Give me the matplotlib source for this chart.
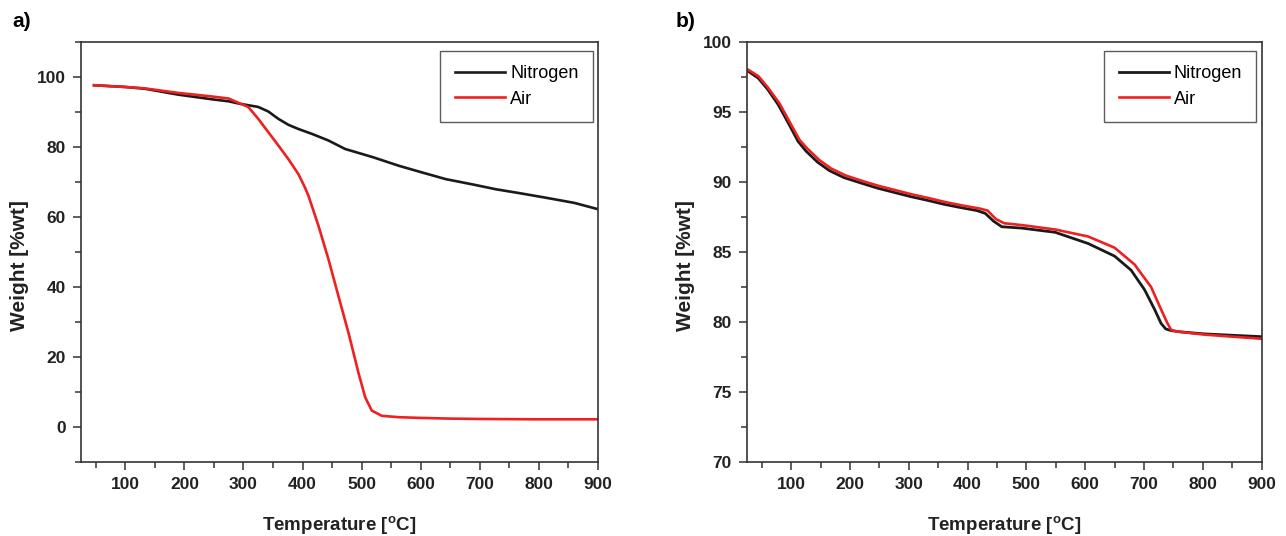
import numpy as np
import matplotlib
matplotlib.use("Agg")
import matplotlib.pyplot as plt
from matplotlib.ticker import MultipleLocator

plt.rcParams['font.family'] = ['Liberation Sans', 'DejaVu Sans']
plt.rcParams['mathtext.fontset'] = 'custom'
plt.rcParams['mathtext.rm'] = 'Liberation Sans:bold'
plt.rcParams['mathtext.bf'] = 'Liberation Sans:bold'

# Panel a) - TGA curves, full range
temp_n2_a = [47, 100, 133, 190, 246, 275, 294, 325, 342, 359, 376, 393, 416, 444,
             472, 520, 563, 600, 642, 690, 727, 770, 811, 860, 900]
weight_n2_a = [97.6, 97.1, 96.6, 94.9, 93.6, 93.0, 92.3, 91.4, 90.1, 88.0, 86.3, 85.1,
               83.7, 81.8, 79.4, 77.0, 74.6, 72.8, 70.8, 69.2, 67.9, 66.7, 65.5, 64.0, 62.2]

temp_air_a = [47, 100, 133, 190, 246, 275, 294, 308, 325, 342, 359, 376, 393, 404, 410,
              427, 444, 461, 478, 495, 506, 517, 534, 563, 600, 650, 700, 800, 900]
weight_air_a = [97.6, 97.1, 96.7, 95.4, 94.4, 93.8, 92.4, 91.4, 88.0, 84.2, 80.4, 76.5,
                72.2, 68.4, 66.0, 57.4, 47.8, 37.2, 26.7, 15.2, 8.5, 4.7, 3.2, 2.8, 2.6,
                2.4, 2.3, 2.2, 2.2]

# Panel b) - zoomed range
temp_n2_b = [25, 44, 60, 78, 95, 111.5, 125, 145, 165, 190, 220, 247, 275, 303, 330, 360,
             390, 416, 430, 444, 458, 492, 549, 605, 650, 678, 701, 718, 729, 737, 745,
             760, 802, 850, 900]
weight_n2_b = [97.95, 97.4, 96.6, 95.5, 94.2, 92.9, 92.2, 91.4, 90.8, 90.3, 89.9, 89.55,
               89.25, 88.95, 88.7, 88.4, 88.15, 87.95, 87.75, 87.2, 86.8, 86.7, 86.4, 85.6,
               84.7, 83.7, 82.3, 80.9, 79.9, 79.5, 79.4, 79.3, 79.15, 79.05, 78.95]

temp_air_b = [25, 44, 60, 80, 97, 114, 128, 148, 168, 193, 222, 250, 278, 306, 333, 363,
              393, 420, 434, 448, 462, 495, 549, 605, 650, 684, 712, 729, 740, 746, 752,
              770, 802, 850, 900]
weight_air_b = [98.05, 97.55, 96.75, 95.6, 94.3, 93.0, 92.35, 91.55, 90.95, 90.45, 90.05,
                89.7, 89.4, 89.1, 88.85, 88.55, 88.3, 88.1, 87.95, 87.35, 87.05, 86.9,
                86.6, 86.1, 85.3, 84.1, 82.5, 80.9, 79.9, 79.45, 79.35, 79.25, 79.1,
                78.95, 78.8]

fig = plt.figure(figsize=(12.86, 5.36), dpi=100)
ax1 = fig.add_axes([0.063, 0.138, 0.402, 0.784])
ax2 = fig.add_axes([0.581, 0.138, 0.400, 0.784])


def style_axis(ax, ymaj, ymin):
    for s in ax.spines.values():
        s.set_linewidth(1.2)
        s.set_color('#333333')
    ax.xaxis.set_major_locator(MultipleLocator(100))
    ax.xaxis.set_minor_locator(MultipleLocator(50))
    ax.yaxis.set_major_locator(MultipleLocator(ymaj))
    ax.yaxis.set_minor_locator(MultipleLocator(ymin))
    ax.tick_params(which='both', direction='out', top=False, right=False,
                   color='#333333', width=1.1)
    ax.tick_params(which='major', length=6, labelsize=12.5, pad=5)
    ax.tick_params(which='minor', length=4)
    for lab in ax.get_xticklabels() + ax.get_yticklabels():
        lab.set_fontweight('bold')
        lab.set_color('#222222')
    ax.set_xlabel(r'Temperature [$^{\mathrm{o}}$C]', fontsize=13.5, fontweight='bold',
                  labelpad=16, color='#222222')
    ax.set_ylabel('Weight [%wt]', fontsize=15, fontweight='bold', color='#222222')
    ax.yaxis.set_label_coords(-0.101, 0.467)
    leg = ax.legend(loc='upper right', bbox_to_anchor=(0.99, 0.978), fontsize=13,
                    frameon=True, fancybox=False, edgecolor='#333333',
                    handlelength=2.8, handletextpad=0.25, borderpad=0.8,
                    labelspacing=0.45, borderaxespad=0)
    leg.get_frame().set_linewidth(1.0)


ax1.plot(temp_n2_a, weight_n2_a, color='#1a1a1a', lw=1.9, label='Nitrogen')
ax1.plot(temp_air_a, weight_air_a, color='#ee2020', lw=1.9, label='Air')
ax1.set_xlim(25, 900)
ax1.set_ylim(-10, 110)
style_axis(ax1, 20, 10)
ax1.set_yticks([0, 20, 40, 60, 80, 100])
for lab in ax1.get_yticklabels():
    lab.set_fontweight('bold')

ax2.plot(temp_n2_b, weight_n2_b, color='#1a1a1a', lw=2.0, label='Nitrogen')
ax2.plot(temp_air_b, weight_air_b, color='#ee2020', lw=1.9, label='Air')
ax2.set_xlim(25, 900)
ax2.set_ylim(70, 100)
style_axis(ax2, 5, 2.5)

fig.text(0.010, 0.977, 'a)', fontsize=15, fontweight='bold', va='top')
fig.text(0.525, 0.977, 'b)', fontsize=15, fontweight='bold', va='top')

fig.savefig('out.png', dpi=100)
